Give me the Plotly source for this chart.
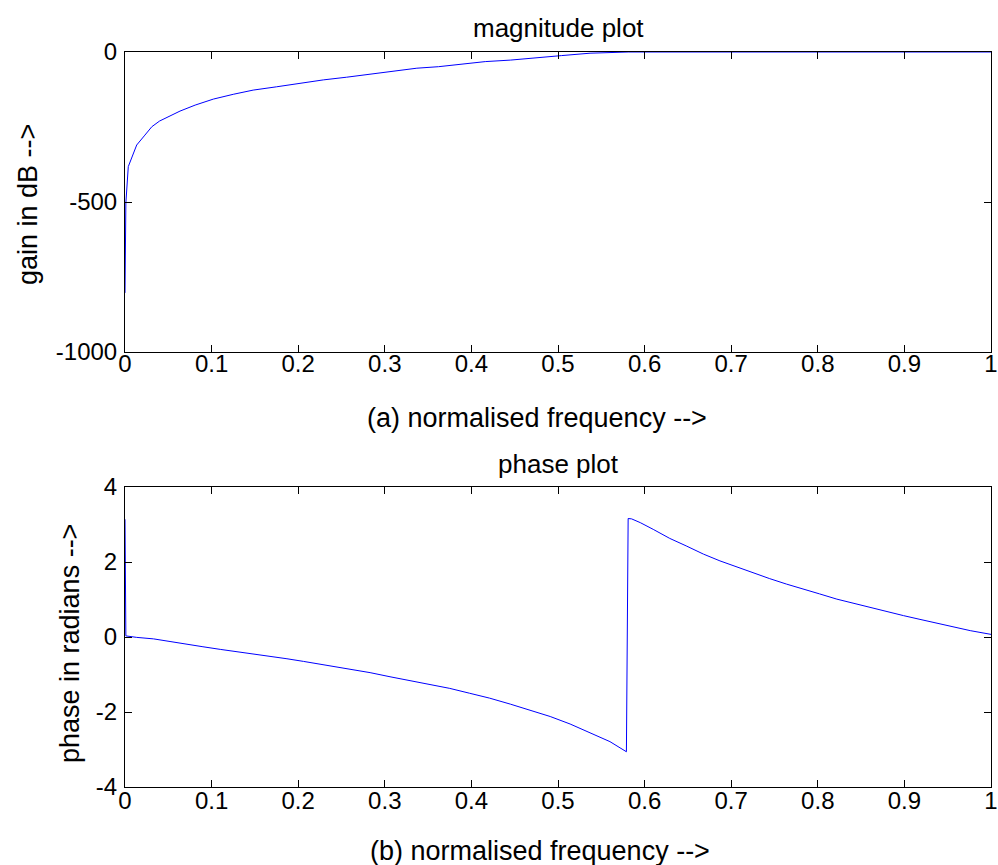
import plotly.graph_objects as go

# Magnitude response (normalised frequency vs gain in dB)
freq_mag = [0, 0.001, 0.0038, 0.0077, 0.0135, 0.023, 0.031, 0.040, 0.052, 0.0635,
            0.081, 0.102, 0.125, 0.148, 0.175, 0.202, 0.229, 0.256, 0.285, 0.314,
            0.337, 0.362, 0.387, 0.416, 0.445, 0.473, 0.504, 0.537, 0.581, 0.7,
            0.8, 0.9, 1.0]
gain_db = [-803, -503, -382, -354, -310, -277, -249, -230, -212, -197,
           -177, -157, -141, -127, -116, -104, -93, -84, -74, -63,
           -54, -49, -41, -32, -27, -19, -12, -4, 0, 0,
           0, 0, 0]

# Phase response (normalised frequency vs phase in radians)
freq_ph = [0, 0.001, 0.0135, 0.033, 0.052, 0.071, 0.090, 0.110, 0.129, 0.148,
           0.167, 0.187, 0.206, 0.225, 0.244, 0.264, 0.283, 0.306, 0.329, 0.352,
           0.375, 0.398, 0.421, 0.445, 0.468, 0.491, 0.514, 0.537, 0.560, 0.579,
           0.581, 0.585, 0.595, 0.610, 0.629, 0.648, 0.668, 0.687, 0.706, 0.725,
           0.744, 0.764, 0.783, 0.802, 0.822, 0.841, 0.860, 0.879, 0.899, 0.918,
           0.937, 0.956, 0.976, 1.0]
phase_rad = [3.14, 0.03, -0.01, -0.05, -0.12, -0.20, -0.26, -0.33, -0.39, -0.44,
             -0.51, -0.58, -0.65, -0.72, -0.79, -0.87, -0.95, -1.06, -1.16, -1.26,
             -1.37, -1.50, -1.63, -1.79, -1.95, -2.12, -2.32, -2.55, -2.79, -3.06,
             3.16, 3.15, 3.05, 2.87, 2.63, 2.43, 2.21, 2.03, 1.87, 1.71,
             1.56, 1.41, 1.27, 1.15, 1.01, 0.90, 0.78, 0.68, 0.57, 0.47,
             0.37, 0.26, 0.17, 0.07]

# Tick positions and labels
x_ticks = [0, 0.1, 0.2, 0.3, 0.4, 0.5, 0.6, 0.7, 0.8, 0.9, 1]
x_ticktext = ["0", "0.1", "0.2", "0.3", "0.4", "0.5", "0.6", "0.7", "0.8", "0.9", "1"]
gain_ticks = [-1000, -500, 0]
gain_ticktext = ["-1000", "-500", "0"]
phase_ticks = [-4, -2, 0, 2, 4]
phase_ticktext = ["-4", "-2", "0", "2", "4"]

W, H = 998, 865
FONT = "Liberation Sans, Arial, sans-serif"
TICK_SIZE = 24
TITLE_SIZE = 26
LABEL_SIZE = 27

fig = go.Figure()
fig.add_trace(go.Scatter(x=freq_mag, y=gain_db, mode="lines",
                         line=dict(color="#0000ff", width=1),
                         xaxis="x", yaxis="y", showlegend=False))
fig.add_trace(go.Scatter(x=freq_ph, y=phase_rad, mode="lines",
                         line=dict(color="#0000ff", width=1),
                         xaxis="x2", yaxis="y2", showlegend=False))

# Axes boxes in pixel terms
L, R = 125, 991
TOP1, BOT1 = 52, 352
TOP2, BOT2 = 487, 787
x_dom = [L / W, R / W]
top_dom = [1 - BOT1 / H, 1 - TOP1 / H]
bot_dom = [1 - BOT2 / H, 1 - TOP2 / H]

axis_common = dict(
    showgrid=False, zeroline=False, showline=True, linecolor="black", linewidth=1,
    mirror="allticks", ticks="inside", ticklen=7, tickcolor="black", tickwidth=1,
    automargin=False,
    tickfont=dict(family=FONT, size=TICK_SIZE, color="black"),
)

fig.update_layout(
    width=W, height=H,
    margin=dict(l=0, r=0, t=0, b=0),
    paper_bgcolor="white", plot_bgcolor="white",
    font=dict(family=FONT, size=TICK_SIZE, color="black"),
    xaxis=dict(domain=x_dom, anchor="y", range=[0, 1], tickvals=x_ticks,
               ticktext=x_ticktext, ticklabelstandoff=-10, **axis_common),
    yaxis=dict(domain=top_dom, anchor="x", range=[-1000, 0],
               tickvals=gain_ticks, ticktext=gain_ticktext,
               ticklabelstandoff=2, **axis_common),
    xaxis2=dict(domain=x_dom, anchor="y2", range=[0, 1], tickvals=x_ticks,
                ticktext=x_ticktext, ticklabelstandoff=-8, **axis_common),
    yaxis2=dict(domain=bot_dom, anchor="x2", range=[-4, 4],
                tickvals=phase_ticks, ticktext=phase_ticktext,
                ticklabelstandoff=2, **axis_common),
)


def paper_text(text, px, py, size, angle=0):
    fig.add_annotation(text=text, x=px / W, y=1 - py / H, xref="paper", yref="paper",
                       showarrow=False, xanchor="center", yanchor="middle",
                       textangle=angle,
                       font=dict(family=FONT, size=size, color="black"))


cx = (L + R) / 2
paper_text("magnitude plot", cx, 28, TITLE_SIZE)
paper_text("(a) normalised frequency -->", 537, 418, LABEL_SIZE)
paper_text("gain in dB -->", 28, 205, LABEL_SIZE, -90)
paper_text("phase plot", cx, 464, TITLE_SIZE)
paper_text("(b) normalised frequency -->", 540, 851, LABEL_SIZE)
paper_text("phase in radians -->", 70, 644, LABEL_SIZE, -90)

fig.write_html("out.html")
